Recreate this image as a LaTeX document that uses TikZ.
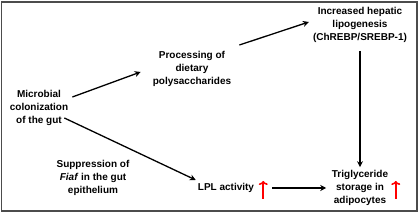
\documentclass[tikz,border=0pt]{standalone}
\usepackage{fontspec}
\setmainfont{Liberation Sans}
\usetikzlibrary{arrows.meta}
\begin{document}
\begin{tikzpicture}[x=1pt,y=1pt,
 lbl/.style={font=\fontsize{10}{13}\selectfont\bfseries, align=center, inner sep=0pt},
 arr/.style={-{Stealth[length=6pt,width=6pt]}, line width=1.3pt},
 up/.style={draw=red, line width=1.6pt, -{To[length=4pt,width=9pt,line width=1.6pt]}}]
\useasboundingbox (0,0) rectangle (420,213);
\draw[line width=1.5pt, draw=black!70] (1.5,2) rectangle (417,211);
\node[lbl] (mic) at (39,105) {Microbial\\colonization\\of the gut};
\node[lbl] (proc) at (192,144) {Processing of\\dietary\\polysaccharides};
\node[lbl] (inc) at (360,188) {Increased hepatic\\lipogenesis\\(ChREBP/SREBP-1)};
\node[lbl] (supp) at (93,35) {Suppression of\\\textit{Fiaf} in the gut\\epithelium};
\node[lbl] (lpl) at (226,25) {LPL activity};
\node[lbl] (trig) at (360,25) {Triglyceride\\storage in\\adipocytes};
\draw[arr] ([shift={(4,11)}]mic.east) -- ([shift={(-12,-3)}]proc.west);
\draw[arr] ([shift={(8,24)}]proc.east) -- ([shift={(-4,3)}]inc.west);
\draw[arr, line width=1.1pt] ([yshift=-8]inc.south) -- ([yshift=3]trig.north);
\draw[arr] ([shift={(-4,-10)}]mic.east) -- ([shift={(-2,8)}]lpl.west);
\draw[arr] ([xshift=18]lpl.east) -- ([xshift=-5.5]trig.west);
\coordinate (r1a) at ([shift={(9,-11)}]lpl.east);
\coordinate (r1b) at ([shift={(9,7)}]lpl.east);
\coordinate (r2a) at ([shift={(7.5,-11)}]trig.east);
\coordinate (r2b) at ([shift={(7.5,7)}]trig.east);
\draw[up] (r1a) -- (r1b);
\draw[up] (r2a) -- (r2b);
\end{tikzpicture}
\end{document}
